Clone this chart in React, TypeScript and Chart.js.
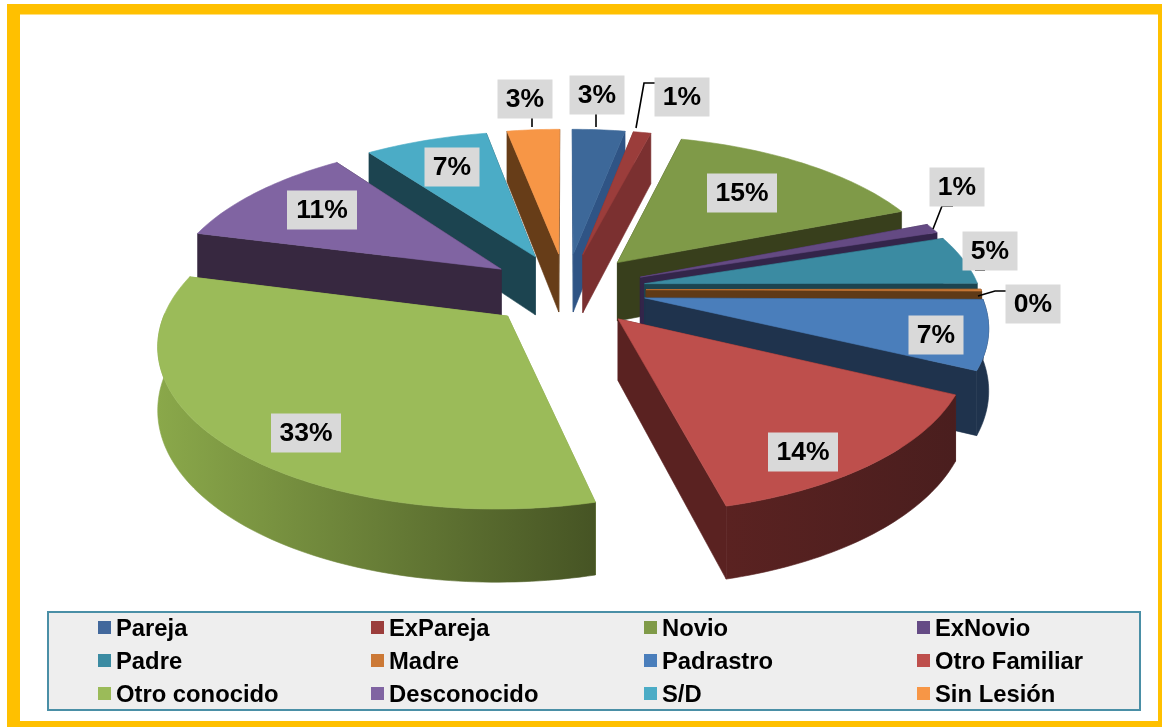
import React, { useEffect, useRef } from "react";
import { Chart, registerables } from "chart.js";

Chart.register(...registerables);

const categories = ["Pareja", "ExPareja", "Novio", "ExNovio", "Padre", "Madre", "Padrastro", "Otro Familiar", "Otro conocido", "Desconocido", "S/D", "Sin Lesión"];
const values = [3, 1, 15, 1, 5, 0.2, 7, 14, 33, 11, 7, 3];
const valueLabels = ["3%", "1%", "15%", "1%", "5%", "0%", "7%", "14%", "33%", "11%", "7%", "3%"];

const topColors = ["#3d6899", "#9b3d3b", "#7f9a48", "#644a83", "#3b8ba2", "#cc7936", "#4a7ebb", "#be4f4c", "#9bbb59", "#8064a2", "#4bacc6", "#f79646"];
const legendColors = ["#42689c", "#9b3d3b", "#7f9a48", "#654b85", "#3b8ba2", "#cc7936", "#4a7ebb", "#be4f4c", "#9bbb59", "#8064a2", "#4bacc6", "#f79646"];
const wallFrom = ["#2f5485", "#7b3030", "#383f1c", "#33254a", "#1c4450", "#5f3a17", "#1f334d", "#5a2221", "#8aa84a", "#372840", "#1c4450", "#673d18"];
const wallTo = ["#2f5485", "#7b3030", "#383f1c", "#33254a", "#1c4450", "#5f3a17", "#1f334d", "#4a1e1e", "#465424", "#372840", "#1c4450", "#673d18"];

// label layout (centre of each grey box, and box width)
const labelX = [597, 682, 742, 957, 990, 1033, 936, 803, 306, 322, 452, 525];
const labelY = [95, 97, 193, 187, 251, 304, 335, 452, 433, 210, 167, 99];
const labelW = [55, 55, 70, 55, 55, 55, 55, 70, 70, 70, 55, 55];
const leaderLines: number[][][] = [
  [[596, 114], [596, 127]],
  [[655, 83], [644, 83], [636, 128]],
  [[953, 206], [942, 206], [933, 229]],
  [[985, 270], [975, 270]],
  [[1006, 291], [995, 291], [978, 296]],
  [[532, 118], [532, 127]],
];

const PERSPECTIVE = 0.00046;
const SQUASH = 0.46;
const DEPTH = 60;

function projector(cx: number, cy: number) {
  return (u: number, v: number, z: number): [number, number] => {
    const f = 1 / (1 - PERSPECTIVE * v);
    return [cx + u * f, cy + (SQUASH * v + z) * f];
  };
}

const pie3d = {
  id: "pie3d",
  beforeDatasetDraw(chart: any) {
    const { ctx } = chart;
    const arcs = chart.getDatasetMeta(0).data as any[];
    const parts = arcs.map((arc, i) => {
      const mid = (arc.startAngle + arc.endAngle) / 2;
      const off = arc.options.offset || 0;
      return {
        i,
        start: arc.startAngle,
        end: arc.endAngle,
        R: arc.outerRadius,
        mid,
        ou: Math.cos(mid) * off,
        ov: Math.sin(mid) * off,
        cx: arc.x,
        cy: arc.y,
      };
    });
    parts.sort((a, b) => a.ov + (a.R / 2) * Math.sin(a.mid) - (b.ov + (b.R / 2) * Math.sin(b.mid)));
    for (const p of parts) {
      const P = projector(p.cx, p.cy);
      const n = Math.max(4, Math.ceil((p.end - p.start) / 0.02));
      const rim: [number, number][] = [];
      for (let k = 0; k <= n; k++) {
        const a = p.start + ((p.end - p.start) * k) / n;
        rim.push([p.ou + p.R * Math.cos(a), p.ov + p.R * Math.sin(a)]);
      }
      const poly = (pts: [number, number][], fill: any) => {
        ctx.beginPath();
        pts.forEach((q, idx) => (idx ? ctx.lineTo(q[0], q[1]) : ctx.moveTo(q[0], q[1])));
        ctx.closePath();
        ctx.fillStyle = fill;
        ctx.strokeStyle = fill;
        ctx.lineWidth = 0.6;
        ctx.fill();
        ctx.stroke();
      };
      const side = wallFrom[p.i];
      const apex: [number, number] = [p.ou, p.ov];
      const faces = [rim[0], rim[n]]
        .map((r) => ({ r, key: (r[1] + apex[1]) / 2 }))
        .sort((a, b) => a.key - b.key);
      for (const f of faces) {
        poly([P(apex[0], apex[1], 0), P(f.r[0], f.r[1], 0), P(f.r[0], f.r[1], DEPTH), P(apex[0], apex[1], DEPTH)], side);
      }
      // curved outer wall: only the part that faces the viewer
      const vis: [number, number][] = [];
      for (let k = 0; k <= n; k++) {
        const a = p.start + ((p.end - p.start) * k) / n;
        if (Math.sin(a) > -0.02) vis.push(rim[k]);
      }
      if (vis.length > 1) {
        const top = vis.map((q) => P(q[0], q[1], 0));
        const bot = vis.map((q) => P(q[0], q[1], DEPTH)).reverse();
        const xs = top.map((q) => q[0]);
        const g = ctx.createLinearGradient(Math.min(...xs), 0, Math.max(...xs), 0);
        g.addColorStop(0, wallFrom[p.i]);
        g.addColorStop(1, wallTo[p.i]);
        poly([...top, ...bot], g);
      }
      poly([P(apex[0], apex[1], 0), ...rim.map((q) => P(q[0], q[1], 0))], topColors[p.i]);
    }
    return false;
  },
  afterDraw(chart: any) {
    const { ctx } = chart;
    ctx.save();
    // leader lines
    ctx.strokeStyle = "#000000";
    ctx.lineWidth = 1.6;
    for (const line of leaderLines) {
      ctx.beginPath();
      line.forEach((q, i) => (i ? ctx.lineTo(q[0], q[1]) : ctx.moveTo(q[0], q[1])));
      ctx.stroke();
    }
    // value labels
    ctx.font = 'bold 26.5px "Liberation Sans", Arial, sans-serif';
    ctx.textAlign = "center";
    ctx.textBaseline = "middle";
    valueLabels.forEach((t, i) => {
      ctx.fillStyle = "#d9d9d9";
      ctx.fillRect(labelX[i] - labelW[i] / 2, labelY[i] - 19.5, labelW[i], 39);
      ctx.fillStyle = "#000000";
      ctx.fillText(t, labelX[i], labelY[i] + 1);
    });
    // legend
    ctx.fillStyle = "#eeeeee";
    ctx.fillRect(47, 611, 1094, 100);
    ctx.strokeStyle = "#4a8fa6";
    ctx.lineWidth = 2;
    ctx.strokeRect(48, 612, 1092, 98);
    ctx.font = 'bold 23.8px "Liberation Sans", Arial, sans-serif';
    ctx.textAlign = "left";
    const colX = [98, 371, 644, 917];
    const rowY = [628, 661, 694];
    categories.forEach((c, i) => {
      const x = colX[i % 4];
      const y = rowY[Math.floor(i / 4)];
      ctx.fillStyle = legendColors[i];
      ctx.fillRect(x, y - 7, 13, 13);
      ctx.fillStyle = "#000000";
      ctx.fillText(c, x + 18, y + 1);
    });
    // frame
    ctx.fillStyle = "#ffc000";
    ctx.fillRect(7, 4, 1155, 10.5);
    ctx.fillRect(7, 721, 1155, 6);
    ctx.fillRect(7, 4, 13, 723);
    ctx.fillRect(1158, 4, 4, 723);
    ctx.restore();
  },
};

export default function App() {
  const ref = useRef<HTMLCanvasElement>(null);
  useEffect(() => {
    const chart = new Chart(ref.current as HTMLCanvasElement, {
      type: "pie",
      data: {
        labels: categories,
        datasets: [{ data: values, backgroundColor: topColors, offset: 80, borderWidth: 0 }],
      },
      options: {
        animation: false,
        responsive: false,
        radius: 335,
        layout: { padding: { right: 30, bottom: 148 } },
        plugins: { legend: { display: false }, tooltip: { enabled: false } },
      } as any,
      plugins: [pie3d],
    });
    return () => chart.destroy();
  }, []);
  return (
    <div style={{ position: "absolute", left: 0, top: 0, width: 1162, height: 727, background: "#ffffff" }}>
      <canvas ref={ref} width={1162} height={727} style={{ display: "block" }} />
    </div>
  );
}
